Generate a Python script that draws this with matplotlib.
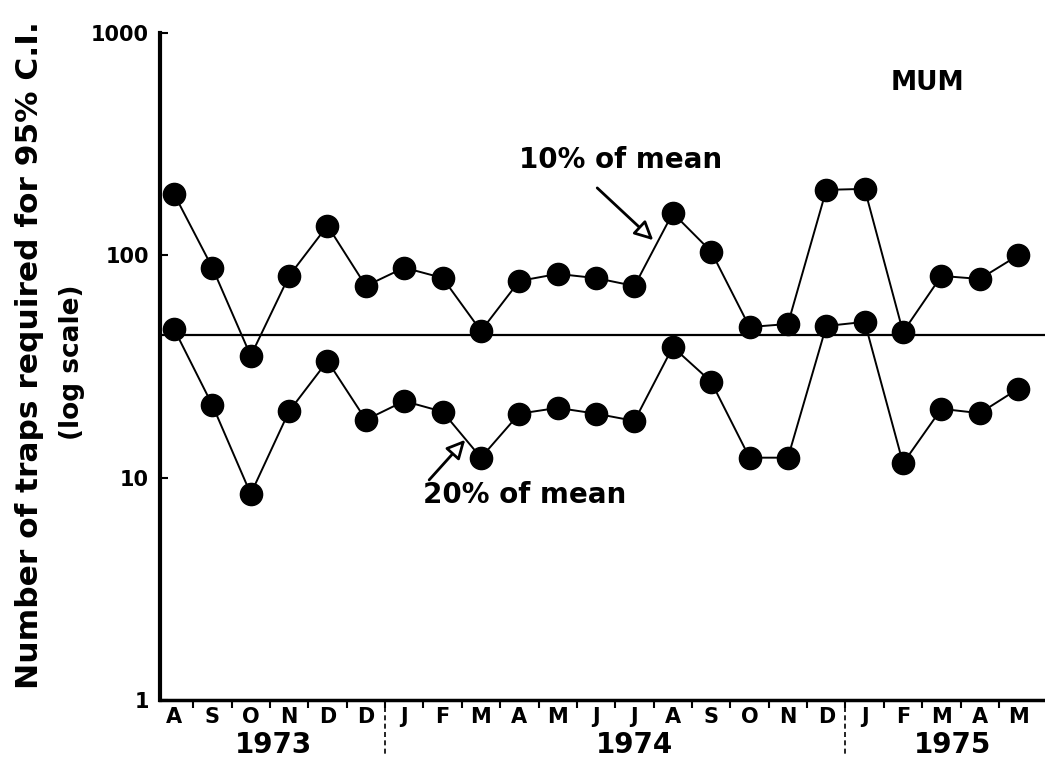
import numpy as np
from matplotlib import pyplot as plt
from matplotlib.ticker import FixedLocator, NullLocator, NullFormatter

months = ['A', 'S', 'O', 'N', 'D', 'D', 'J', 'F', 'M', 'A', 'M', 'J',
          'J', 'A', 'S', 'O', 'N', 'D', 'J', 'F', 'M', 'A', 'M']
years = ['1973', '1974', '1975']
year_pos = [2.6, 12.0, 20.3]
year_breaks = [5.5, 17.5]

traps_10pct = [189, 88, 35.3, 80.8, 136, 72.8, 88, 79.1, 45.7, 76.7, 82.5, 79,
               72.8, 155, 104, 47.6, 49.1, 197, 199, 45.2, 80.8, 78.3, 100]
traps_20pct = [46.7, 21.2, 8.45, 19.9, 33.5, 18.2, 22.1, 19.8, 12.3, 19.4, 20.6, 19.4,
               18.0, 38.7, 27.0, 12.3, 12.3, 48.1, 50.2, 11.6, 20.4, 19.5, 25.1]
ref_level = 44

x = np.arange(len(months))

fig = plt.figure(figsize=(10.45, 7.58), dpi=100)
ax = fig.add_axes([160 / 1045, 1 - 700 / 758, 1 - 160 / 1045, (700 - 33) / 758])

ax.plot(x, traps_10pct, color='black', lw=1.4, marker='o', markersize=16, zorder=3)
ax.plot(x, traps_20pct, color='black', lw=1.4, marker='o', markersize=16, zorder=3)
ax.axhline(ref_level, color='black', lw=1.6, zorder=2)

ax.set_yscale('log')
ax.set_ylim(1, 1000)
ax.set_xlim(-0.365, 22.7)

ax.spines['top'].set_visible(False)
ax.spines['right'].set_visible(False)
ax.spines['left'].set_linewidth(3)
ax.spines['bottom'].set_linewidth(2.5)

ax.yaxis.set_major_locator(FixedLocator([1, 10, 100, 1000]))
ax.yaxis.set_minor_locator(NullLocator())
ax.set_yticklabels(['1', '10', '100', '1000'], fontsize=15, fontweight='bold')
ax.tick_params(axis='y', direction='in', length=6, width=1.5, pad=8)

ax.set_xticks(x)
ax.set_xticklabels(months, fontsize=15, fontweight='bold')
ax.tick_params(axis='x', which='major', length=0, pad=5)
ax.xaxis.set_minor_locator(FixedLocator(x[:-1] + 0.5))
ax.xaxis.set_minor_formatter(NullFormatter())
ax.tick_params(axis='x', which='minor', direction='out', length=6, width=1.5)

trans = ax.get_xaxis_transform()
for xb in year_breaks:
    ax.plot([xb, xb], [-0.01, -0.085], transform=trans, color='black', lw=1.2,
            ls=(0, (3, 2)), clip_on=False)
for yr, xp in zip(years, year_pos):
    ax.text(xp, -0.068, yr, transform=trans, ha='center', va='center',
            fontsize=20, fontweight='bold')

ax.annotate('', xy=(12.49, 117), xytext=(11.03, 201),
            arrowprops=dict(arrowstyle='-|>', fc='white', ec='black', lw=2,
                            mutation_scale=28, shrinkA=0, shrinkB=0))
ax.text(11.63, 269, '10% of mean', ha='center', va='center', fontsize=20, fontweight='bold')

ax.annotate('', xy=(7.59, 14.8), xytext=(6.65, 9.77),
            arrowprops=dict(arrowstyle='-|>', fc='white', ec='black', lw=2,
                            mutation_scale=28, shrinkA=0, shrinkB=0))
ax.text(9.15, 8.36, '20% of mean', ha='center', va='center', fontsize=20, fontweight='bold')

ax.text(19.63, 597, 'MUM', ha='center', va='center', fontsize=19, fontweight='bold')

fig.text(30 / 1045, 1 - 355 / 758, 'Number of traps required for 95% C.I.', rotation=90,
         ha='center', va='center', fontsize=22.5, fontweight='bold')
fig.text(72 / 1045, 1 - 362 / 758, '(log scale)', rotation=90,
         ha='center', va='center', fontsize=19, fontweight='bold')

plt.savefig('out.png', dpi=100)
